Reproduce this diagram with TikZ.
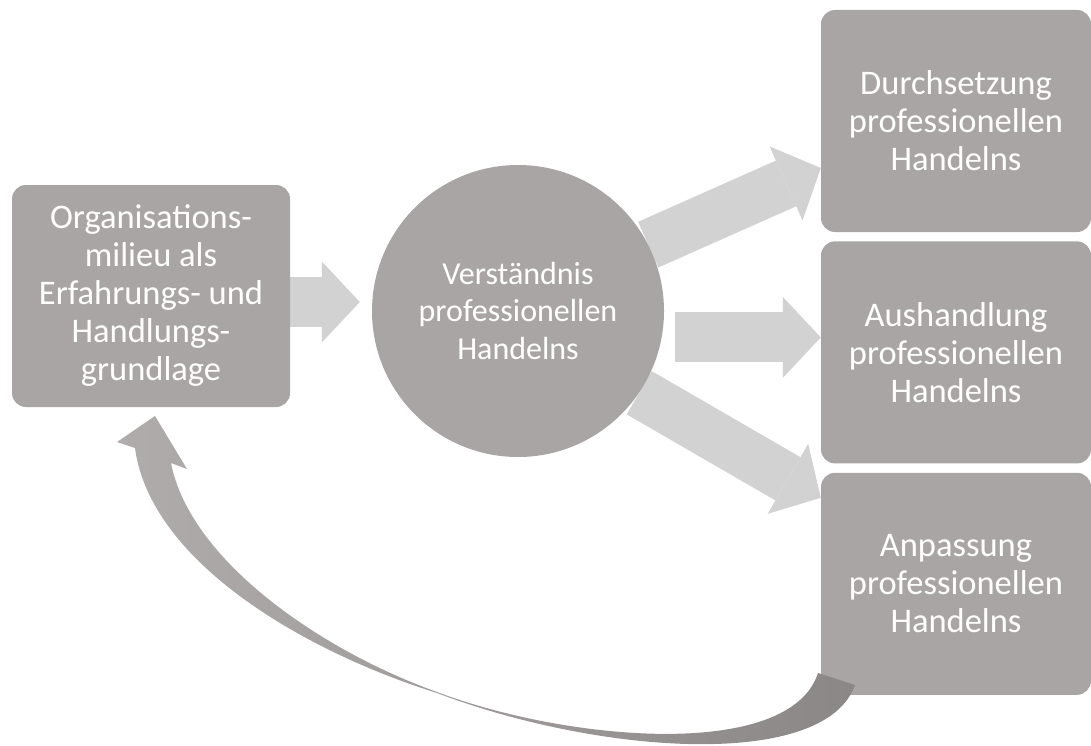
\documentclass[tikz,border=0pt]{standalone}
\usepackage{fontspec}
\setmainfont{Carlito}
\usetikzlibrary{positioning,arrows.meta,backgrounds}
\definecolor{boxgray}{RGB}{169,165,165}
\definecolor{arrowgray}{RGB}{211,210,211}
\definecolor{curvelight}{RGB}{176,172,172}
\definecolor{curvedark}{RGB}{139,135,134}
\begin{document}
\begin{tikzpicture}[x=1pt, y=-1pt,
                    font=\fontsize{34.5}{38}\selectfont,
                    ]
    \tikzstyle{kasten}=[rectangle,rounded corners=14pt,fill=boxgray,text=white,align=center,
                        minimum width=270pt,minimum height=222pt,inner sep=0pt]
    \tikzstyle{kreis}=[circle,fill=boxgray,text=white,align=center,minimum size=292pt,
                       inner sep=0pt,font=\fontsize{32}{37.5}\selectfont]
    \tikzstyle{pfeil}=[draw=arrowgray,line width=50pt,
                       -{Triangle[length=38pt,width=81pt,line width=0pt]}]
    \tikzstyle{rueck}=[left color=curvelight,middle color=curvelight,right color=curvedark]

    \useasboundingbox (0,0) rectangle (1091,746);

    \node[kasten,minimum width=278pt] (org) at (151,296)
        {Organisations-\\milieu als\\Erfahrungs- und\\Handlungs-\\grundlage};
    \node[kreis] (verst) at (518,311) {Verständnis\\professionellen\\Handelns};
    \node[kasten] (dur) at (956,121) {Durchsetzung\\professionellen\\Handelns};
    \node[kasten,below=9pt of dur] (aus) {Aushandlung\\professionellen\\Handelns};
    \node[kasten,below=9pt of aus] (anp) {Anpassung\\professionellen\\Handelns};

    \begin{scope}[on background layer]
        \draw[pfeil,shorten >=12pt] ([yshift=-6pt]org.east) -- ([yshift=-6pt]org.east -| verst.west);
        \draw[pfeil] (verst.27) -- ([yshift=-47pt]dur.west);
        \draw[pfeil,shorten <=11pt] ([yshift=15pt]aus.west -| verst.east) -- ([yshift=15pt]aus.west);
        \draw[pfeil] (verst.-34) -- ([yshift=86pt]anp.west);
    \end{scope}

    % Rueckkopplung
    \path[rueck] (135,448) -- (117,442) -- (155,416) -- (187,469) -- (171,463)
        .. controls (190,560) and (320,650) .. (437,692)
        .. controls (570,742) and (790,760) .. (818,673)
        -- (855,685)
        .. controls (825,770) and (600,755) .. (437,693)
        .. controls (300,650) and (150,560) .. (135,448)
        -- cycle;
\end{tikzpicture}
\end{document}
